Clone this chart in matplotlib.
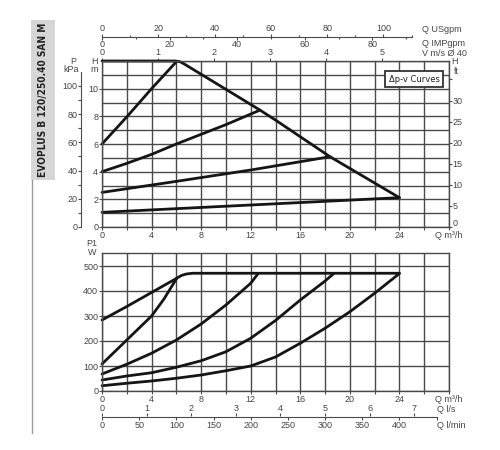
import numpy as np
import matplotlib
matplotlib.use('Agg')
import matplotlib.pyplot as plt
from matplotlib import font_manager
from matplotlib.patches import Rectangle
from matplotlib.lines import Line2D

# ---------------- data ----------------
# Head curves (Q in m3/h, H in m)
hmax_q = [0, 5.9, 6.3, 6.7, 12.0, 12.75, 14.0, 18.4, 24.0]
hmax_h = [12.0, 12.0, 11.95, 11.75, 8.86, 8.45, 7.73, 5.08, 2.12]
h1_q = [0, 2, 4, 5.95]
h1_h = [6.0, 7.96, 10.0, 11.9]
h2_q = [0, 2, 4, 6, 8, 10, 12.75]
h2_h = [4.0, 4.6, 5.25, 6.0, 6.7, 7.4, 8.45]
h3_q = [0, 6, 12, 18.4]
h3_h = [2.5, 3.3, 4.12, 5.08]
h4_q = [0, 12, 24]
h4_h = [1.06, 1.59, 2.12]

# Power curves (Q in m3/h, P1 in W)
pa_q = [0, 2, 6.03]
pa_p = [284, 338, 451]
pb_q = [0, 2, 4, 5, 6.03]
pb_p = [108, 204, 300, 368, 451]
pc_q = [0, 2, 4, 6, 8, 10, 12, 12.6]
pc_p = [68, 107, 151, 204, 268, 344, 431, 470]
pd_q = [0, 2, 4, 6, 8, 10, 12, 14, 16, 18, 18.7]
pd_p = [44, 60, 73, 95, 121, 157, 211, 282, 364, 440, 470]
pe_q = [0, 2, 4, 6, 8, 10, 12, 14, 16, 18, 20, 22, 24]
pe_p = [21, 31, 40, 51, 64, 81, 100, 136, 191, 251, 317, 391, 470]
pmax_q = [6.03, 6.4, 6.8, 7.3, 24.0]
pmax_p = [451, 462, 468, 471, 471]

# axis ticks
q_major = [0, 4, 8, 12, 16, 20, 24, 28]
q_labels = ['0', '4', '8', '12', '16', '20', '24', 'Q m³/h']
h_major = [0, 2, 4, 6, 8, 10]
kpa_major = [0, 20, 40, 60, 80, 100]
kpa_minor = [10, 30, 50, 70, 90]
ft_ticks = [0, 5, 10, 15, 20, 25, 30, 35]
ft_labels = ['', '5', '10', '15', '20', '25', '30', '']
v_ticks = [0, 1, 2, 3, 4, 5]
us_major = [0, 20, 40, 60, 80, 100]
us_minor = [10, 30, 50, 70, 90, 110]
imp_major = [0, 20, 40, 60, 80]
imp_minor = [10, 30, 50, 70, 90]
p_major = [0, 100, 200, 300, 400, 500]
ls_ticks = [0, 1, 2, 3, 4, 5, 6, 7]
lmin_ticks = [0, 50, 100, 150, 200, 250, 300, 350, 400, 450]
lmin_labels = ['0', '50', '100', '150', '200', '250', '300', '350', '400', '']

# unit factors
M3H_PER_USGPM = 1 / 4.40287
M3H_PER_IMPGPM = 1 / 3.66614
M3H_PER_MS = 4.5239        # velocity in DN40
M3H_PER_LS = 3.6
M3H_PER_LMIN = 0.06
KPA_PER_M = 9.80665
FT_PER_M = 1 / 0.3048

# ---------------- style ----------------
fl = font_manager.fontManager.ttflist
names = {f.name for f in fl}
base = ['Liberation Sans', 'DejaVu Sans']
cond_kw = {}
if 'Liberation Sans Narrow' in names:
    narrow = ['Liberation Sans Narrow'] + base
elif any(f.name == 'DejaVu Sans' and 'ondensed' in str(f.stretch) for f in fl):
    narrow = ['DejaVu Sans']
    cond_kw = {'fontstretch': 'condensed'}
else:
    narrow = base
plt.rcParams['font.family'] = base

TXT = '#444444'
GRID = '#4a4a4a'
CURVE = '#151515'
FS = 6.5
TL = 2.2   # tick length (pt) ~3 px

W, H = 500, 450
fig = plt.figure(figsize=(5, 4.5), dpi=100)
def fx(px): return px / W
def fy(py): return 1 - py / H

L, R = 102, 449
T1, B1 = 61, 227
T2, B2 = 253.5, 391

ax1 = fig.add_axes([fx(L), fy(B1), (R - L) / W, (B1 - T1) / H])
ax2 = fig.add_axes([fx(L), fy(B2), (R - L) / W, (B2 - T2) / H])

def style(ax):
    for s in ax.spines.values():
        s.set_color(GRID)
        s.set_linewidth(1.0)
    ax.tick_params(which='both', direction='out', length=TL, width=0.8,
                   color=GRID, labelsize=FS, labelcolor=TXT, pad=0.5)
    ax.grid(True, which='both', color=GRID, lw=1.0)
    ax.set_axisbelow(True)

# ---- top plot ----
ax1.set_xlim(0, 28)
ax1.set_ylim(0, 12)
ax1.set_xticks(q_major)
ax1.set_xticklabels(q_labels)
ax1.set_xticks(np.arange(2, 28, 4), minor=True)
ax1.set_yticks(h_major)
ax1.set_yticks(np.arange(1, 13, 2).tolist() + [12], minor=True)
style(ax1)
ax1.tick_params(axis='y', which='minor', length=0)
lw = 2.0
for q, h in [(hmax_q, hmax_h), (h1_q, h1_h), (h2_q, h2_h), (h3_q, h3_h), (h4_q, h4_h)]:
    ax1.plot(q, h, color=CURVE, lw=lw, solid_joinstyle='round', solid_capstyle='round', clip_on=False)

# velocity axis on top spine
secv = ax1.secondary_xaxis('top', functions=(lambda q: q / M3H_PER_MS, lambda v: v * M3H_PER_MS))
secv.set_xticks(v_ticks)
secv.tick_params(direction='out', length=TL, width=0.8, color=GRID, labelsize=FS, labelcolor=TXT, pad=0.5)
secv.spines['top'].set_visible(False)

# ft axis on right
secf = ax1.secondary_yaxis('right', functions=(lambda m: m * FT_PER_M, lambda f: f / FT_PER_M))
secf.set_yticks(ft_ticks)
secf.set_yticklabels(ft_labels)
secf.tick_params(direction='out', length=TL, width=0.8, color=GRID, labelsize=FS, labelcolor=TXT, pad=0.3)
secf.spines['right'].set_visible(False)

# kPa axis on left
seck = ax1.secondary_yaxis((81 - L) / (R - L), functions=(lambda m: m * KPA_PER_M, lambda p: p / KPA_PER_M))
seck.set_yticks(kpa_major)
seck.set_yticks(kpa_minor, minor=True)
seck.tick_params(which='both', direction='out', length=TL, width=0.8, color=GRID, labelsize=FS, labelcolor=TXT, pad=0.3)
seck.spines['left'].set_color(GRID)
seck.spines['left'].set_linewidth(0.8)
seck.spines['left'].set_bounds(0, 110)

def thin_axes(ypx):
    a = fig.add_axes([fx(L), fy(ypx), (R - L) / W, 1e-4])
    a.set_xlim(0, 28)
    a.set_yticks([])
    a.patch.set_visible(False)
    for s in a.spines.values():
        s.set_visible(False)
    return a

# USgpm / IMPgpm axes
yq = 37
axU = thin_axes(yq)
axI = thin_axes(yq)
axU.spines['top'].set_visible(True)
axU.spines['top'].set_color(GRID)
axU.spines['top'].set_linewidth(0.8)
axU.spines['top'].set_bounds(0, 110 * M3H_PER_USGPM)
axU.xaxis.set_ticks_position('top')
axU.set_xticks(np.array(us_major) * M3H_PER_USGPM)
axU.set_xticklabels([str(v) for v in us_major])
axU.set_xticks(np.array(us_minor) * M3H_PER_USGPM, minor=True)
axU.tick_params(which='major', length=TL, width=0.8, color=GRID, labelsize=FS, labelcolor=TXT, pad=0.5)
axU.tick_params(which='minor', length=1.6, width=0.8, color=GRID)
axI.xaxis.set_ticks_position('bottom')
axI.set_xticks(np.array(imp_major) * M3H_PER_IMPGPM)
axI.set_xticklabels([str(v) for v in imp_major])
axI.set_xticks(np.array(imp_minor) * M3H_PER_IMPGPM, minor=True)
axI.tick_params(which='major', length=TL, width=0.8, color=GRID, labelsize=FS, labelcolor=TXT, pad=0.3)
axI.tick_params(which='minor', length=1.6, width=0.8, color=GRID)

# ---- bottom plot ----
ax2.set_xlim(0, 28)
ax2.set_ylim(0, 550)
ax2.set_xticks(q_major)
ax2.set_xticklabels(q_labels)
ax2.set_xticks(np.arange(2, 28, 4), minor=True)
ax2.set_yticks(p_major)
style(ax2)
for q, p in [(pa_q, pa_p), (pb_q, pb_p), (pc_q, pc_p), (pd_q, pd_p), (pe_q, pe_p), (pmax_q, pmax_p)]:
    ax2.plot(q, p, color=CURVE, lw=lw, solid_joinstyle='round', solid_capstyle='round', clip_on=False)

# l/s and l/min axes
yl = 416.5
axS = thin_axes(yl)
axM = thin_axes(yl)
axM.spines['bottom'].set_visible(True)
axM.spines['bottom'].set_color(GRID)
axM.spines['bottom'].set_linewidth(0.8)
axM.spines['bottom'].set_bounds(0, 450 * M3H_PER_LMIN)
axS.xaxis.set_ticks_position('top')
axS.set_xticks(np.array(ls_ticks) * M3H_PER_LS)
axS.set_xticklabels([str(v) for v in ls_ticks])
axS.tick_params(length=TL, width=0.8, color=GRID, labelsize=FS, labelcolor=TXT, pad=0.0)
axM.xaxis.set_ticks_position('bottom')
axM.set_xticks(np.array(lmin_ticks) * M3H_PER_LMIN)
axM.set_xticklabels(lmin_labels)
axM.tick_params(length=TL, width=0.8, color=GRID, labelsize=FS, labelcolor=TXT, pad=0.8)

# ---- texts ----
def t(px, py, s, ha='left', va='center', **kw):
    kw.setdefault('fontsize', FS)
    kw.setdefault('color', TXT)
    return fig.text(fx(px), fy(py), s, ha=ha, va=va, **kw)

t(422, 30, 'Q USgpm')
t(422, 44, 'Q IMPgpm')
t(422, 53, 'V m/s Ø 40')
t(454, 62, 'H', ha='center')
t(456, 71, 'ft', ha='center')
t(452.8, 223.5, '0')          # ft zero label, lifted clear of "Q m³/h"
t(73, 61, 'P', ha='center')
t(71, 69, 'kPa', ha='center')
t(94, 61, 'H', ha='center')
t(94, 69, 'm', ha='center')
t(92, 243, 'P1', ha='center')
t(92, 252, 'W', ha='center')
t(437, 410, 'Q l/s')
t(437, 425, 'Q l/min')

# legend box
fig.add_artist(Rectangle((fx(385), fy(87)), 58 / W, 16 / H, transform=fig.transFigure,
                         facecolor='white', edgecolor='#333333', lw=1.3, zorder=5))
leg = t(414, 79, 'Δp-v Curves', ha='center', family=narrow, fontsize=8.5,
        color='#222222', zorder=6, **cond_kw)

# title box
fig.add_artist(Rectangle((fx(31), fy(180)), 24 / W, 160 / H, transform=fig.transFigure,
                         facecolor='#d6d6d6', edgecolor='none'))
fig.add_artist(Line2D([fx(32), fx(32)], [fy(180), fy(433)], transform=fig.transFigure,
                      color='#9a9a9a', lw=1.0))
title = t(43, 100, 'EVOPLUS B 120/250.40 SAN M', ha='center', family=narrow,
          fontsize=11, color='#222222', fontweight='bold', rotation=90, **cond_kw)

# fit title length (~154 px) and legend text width (~51 px)
fig.canvas.draw()
r = fig.canvas.get_renderer()
ext = title.get_window_extent(r)
title.set_fontsize(11 * 154 / ext.height)
ext = leg.get_window_extent(r)
leg.set_fontsize(8.5 * 51 / ext.width)

fig.savefig('out.png', dpi=100)
